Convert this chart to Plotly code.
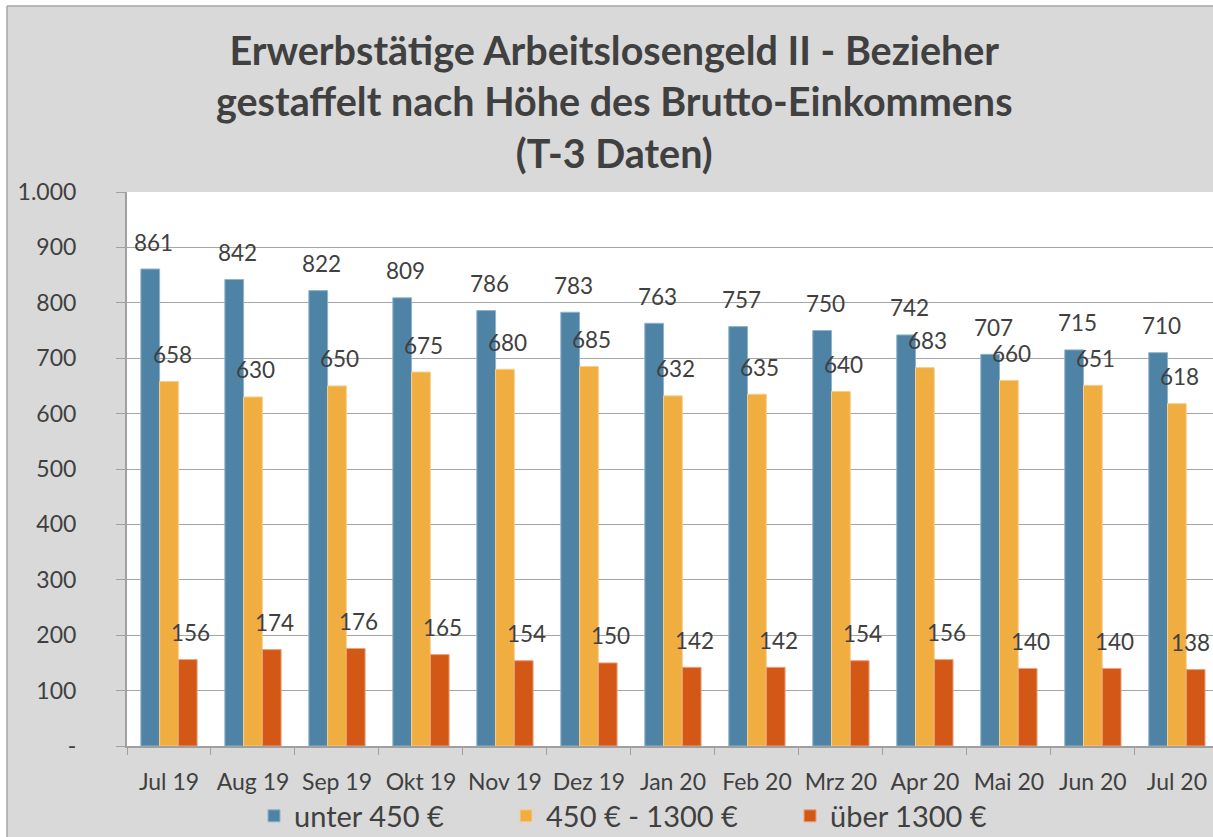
import plotly.graph_objects as go

months = ["Jul 19", "Aug 19", "Sep 19", "Okt 19", "Nov 19", "Dez 19", "Jan 20",
          "Feb 20", "Mrz 20", "Apr 20", "Mai 20", "Jun 20", "Jul 20"]
unter_450 = [861, 842, 822, 809, 786, 783, 763, 757, 750, 742, 707, 715, 710]
mittel_450_1300 = [658, 630, 650, 675, 680, 685, 632, 635, 640, 683, 660, 651, 618]
ueber_1300 = [156, 174, 176, 165, 154, 150, 142, 142, 154, 156, 140, 140, 138]

series_names = ["unter 450 €", "450 € - 1300 €", "über 1300 €"]
series_values = [unter_450, mittel_450_1300, ueber_1300]
colors = ["#4f83a6", "#f0ad40", "#d45815"]
line_colors = ["#8fb3cc", "#f7cf8e", "#eaa17e"]

y_tickvals = [0, 100, 200, 300, 400, 500, 600, 700, 800, 900, 1000]
y_ticktext = ["-", "100", "200", "300", "400", "500", "600", "700", "800", "900", "1.000"]

title_text = ("Erwerbstätige Arbeitslosengeld II - Bezieher<br>"
              "gestaffelt nach Höhe des Brutto-Einkommens<br>(T-3 Daten)")

FONT = "Lato"
TXT = "#404040"

W, H = 1213, 837
L, R, T, B = 127, 0, 192, 91
pw, ph = W - L - R, H - T - B


def px(x):
    return (x - L) / pw


def py(y):
    return (H - B - y) / ph


legend_ids = ["legend", "legend2", "legend3"]
legend_left_px = [254, 506, 790]

fig = go.Figure()
for name, vals, c, lc, lg in zip(series_names, series_values, colors, line_colors, legend_ids):
    fig.add_trace(go.Bar(x=months, y=vals, name=name, legend=lg,
                         marker=dict(color=c, line=dict(color=lc, width=1))))

# data labels (Excel style, above and slightly right of each bar)
bar_px = 18.7
annotations = []
n = len(months)
for k, vals in enumerate(series_values):
    for i, (m, v) in enumerate(zip(months, vals)):
        shift = (k - 1) * bar_px + 3
        if k == 2 and i == n - 1:
            shift = (k - 1) * bar_px - 5   # Excel keeps the last label inside the chart
        annotations.append(dict(
            x=m, y=v, xref="x", yref="y", text=str(v), showarrow=False,
            xshift=shift, yshift=27, yanchor="middle",
            font=dict(family=FONT, size=22.5, color=TXT)))

annotations.append(dict(
    x=px(614), y=py(24), xref="paper", yref="paper", xanchor="center", yanchor="top",
    text=title_text, showarrow=False,
    font=dict(family=FONT, size=39.5, color=TXT, weight="bold")))

shapes = [
    dict(type="rect", xref="paper", yref="paper", x0=px(-5), x1=px(7), y0=py(900), y1=py(-5),
         fillcolor="white", line=dict(width=0), layer="above"),
    dict(type="rect", xref="paper", yref="paper", x0=px(-5), x1=px(1300), y0=py(6), y1=py(-5),
         fillcolor="white", line=dict(width=0), layer="above"),
    dict(type="line", xref="paper", yref="paper", x0=px(7), x1=px(7), y0=py(6), y1=py(900),
         line=dict(color="#a6a6a6", width=1.5)),
    dict(type="line", xref="paper", yref="paper", x0=px(7), x1=px(1300), y0=py(6), y1=py(6),
         line=dict(color="#a6a6a6", width=1.5)),
]

legend_style = dict(orientation="h", xanchor="left", yanchor="middle",
                    font=dict(family=FONT, size=29, color=TXT), bgcolor="rgba(0,0,0,0)")
legends = {lg: dict(legend_style, x=px(lx), y=py(816))
           for lg, lx in zip(legend_ids, legend_left_px)}

fig.update_layout(
    width=W, height=H,
    margin=dict(l=L, r=R, t=T, b=B, pad=0, autoexpand=False),
    paper_bgcolor="#d9d9d9", plot_bgcolor="white",
    barmode="group", bargap=0.33, bargroupgap=0,
    font=dict(family=FONT, color=TXT),
    xaxis=dict(range=[-0.5, 12.43], tickson="boundaries", ticks="outside", ticklen=7,
               tickcolor="#a0a0a0", showline=True, linecolor="#a0a0a0", linewidth=2,
               showgrid=False, tickfont=dict(family=FONT, size=23, color=TXT),
               ticklabelstandoff=14),
    yaxis=dict(range=[0, 1000], tickvals=y_tickvals, ticktext=y_ticktext, ticks="outside",
               ticklen=9, tickcolor="#a0a0a0", showline=True, linecolor="#a0a0a0", linewidth=2,
               showgrid=True, gridcolor="#a6a6a6", gridwidth=1.3, zeroline=False,
               tickfont=dict(family=FONT, size=23, color=TXT), ticklabelstandoff=35),
    annotations=annotations, shapes=shapes,
    showlegend=True,
    **legends,
)

fig.write_html("out.html", config={"displayModeBar": False},
               post_script="document.body.style.margin='0px';")
